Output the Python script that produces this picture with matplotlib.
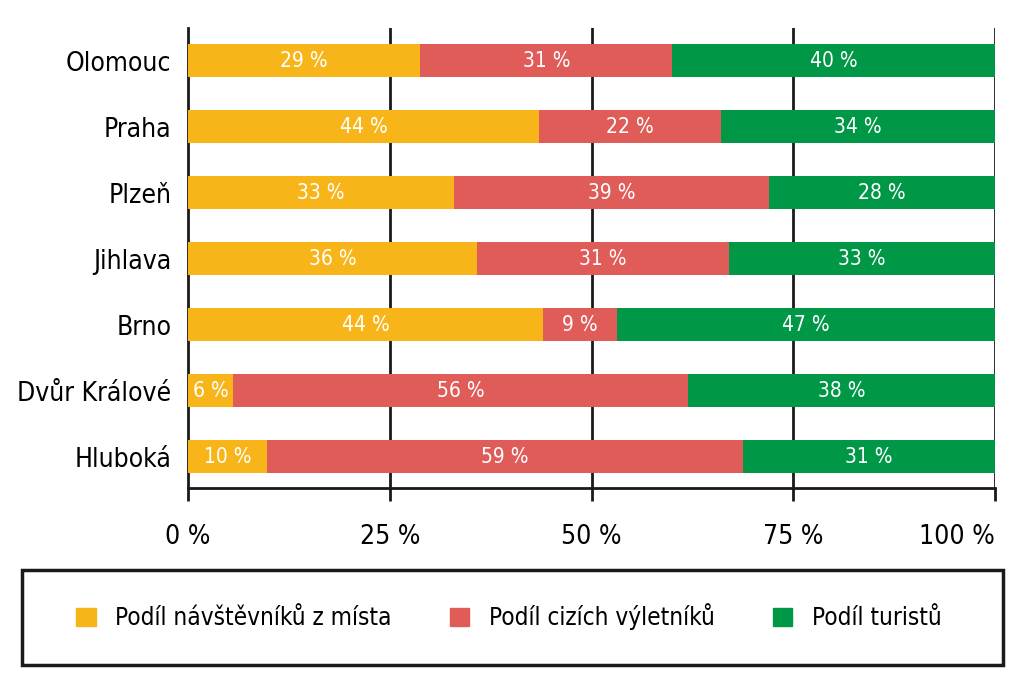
import matplotlib.pyplot as plt
from matplotlib.patches import Patch, Rectangle

plt.rcParams['font.family'] = ['DejaVu Sans']
plt.rcParams['font.stretch'] = 'condensed'

mesta = ["Olomouc", "Praha", "Plzeň", "Jihlava", "Brno", "Dvůr Králové", "Hluboká"]
mistni = [29, 44, 33, 36, 44, 6, 10]
vyletnici = [31, 22, 39, 31, 9, 56, 59]
turiste = [40, 34, 28, 33, 47, 38, 31]
# šířky segmentů podle obrázku (popisky jsou zaokrouhlené)
sirka_mistni = [28.8, 43.5, 33.0, 35.8, 44.0, 5.6, 9.8]
sirka_vylet = [31.2, 22.5, 39.0, 31.2, 9.2, 56.4, 59.0]
sirka_tur = [40.0, 34.0, 28.0, 33.0, 46.8, 38.0, 31.2]

legenda = ["Podíl návštěvníků z místa", "Podíl cizích výletníků", "Podíl turistů"]
barvy = ["#F8B51A", "#E05C59", "#009846"]
xticky = [0, 25, 50, 75, 100]

fig = plt.figure(figsize=(10.24, 6.93), dpi=100)
ax = fig.add_axes([188/1024, 1-488/693, (995-188)/1024, (488-28)/693])

y = list(range(len(mesta)))
vlevo = [0]*len(mesta)
for sirky, popisky, barva in zip([sirka_mistni, sirka_vylet, sirka_tur],
                                 [mistni, vyletnici, turiste], barvy):
    ax.barh(y, sirky, left=vlevo, height=0.5, color=barva, zorder=3)
    for i in y:
        ax.text(vlevo[i] + sirky[i]/2, i, f"{popisky[i]} %", ha="center", va="center",
                color="white", fontsize=15, zorder=4)
    vlevo = [a + b for a, b in zip(vlevo, sirky)]

for xv in xticky[1:]:
    ax.axvline(xv, color="#1a1a1a", lw=2, zorder=1)

ax.set_xlim(0, 100)
ax.set_ylim(len(mesta) - 0.53, -0.5)
ax.set_yticks(y)
ax.set_yticklabels(mesta, fontsize=19)
ax.set_xticks(xticky)
ax.set_xticklabels([f"{v} %" for v in xticky], fontsize=19)
ax.get_xticklabels()[-1].set_ha("right")
ax.tick_params(axis="y", length=0, pad=12)
ax.tick_params(axis="x", length=9, width=2, color="#1a1a1a", pad=17)
for s in ["top", "right"]:
    ax.spines[s].set_visible(False)
ax.spines["left"].set_linewidth(2)
ax.spines["bottom"].set_linewidth(2)
ax.spines["left"].set_color("#1a1a1a")
ax.spines["bottom"].set_color("#1a1a1a")

fig.patches.append(Rectangle((22/1024, 1-665/693), (1003-22)/1024, 95/693,
                             transform=fig.transFigure, fill=False,
                             edgecolor="#1a1a1a", lw=2.5))
handles = [Patch(color=c) for c in barvy]
fig.legend(handles, legenda, loc="center", bbox_to_anchor=(0.497, 1-617/693),
           ncol=3, frameon=False, fontsize=17.5, handlelength=0.8, handleheight=0.8,
           columnspacing=2.4, handletextpad=0.8)

fig.savefig("out.png", dpi=100)
